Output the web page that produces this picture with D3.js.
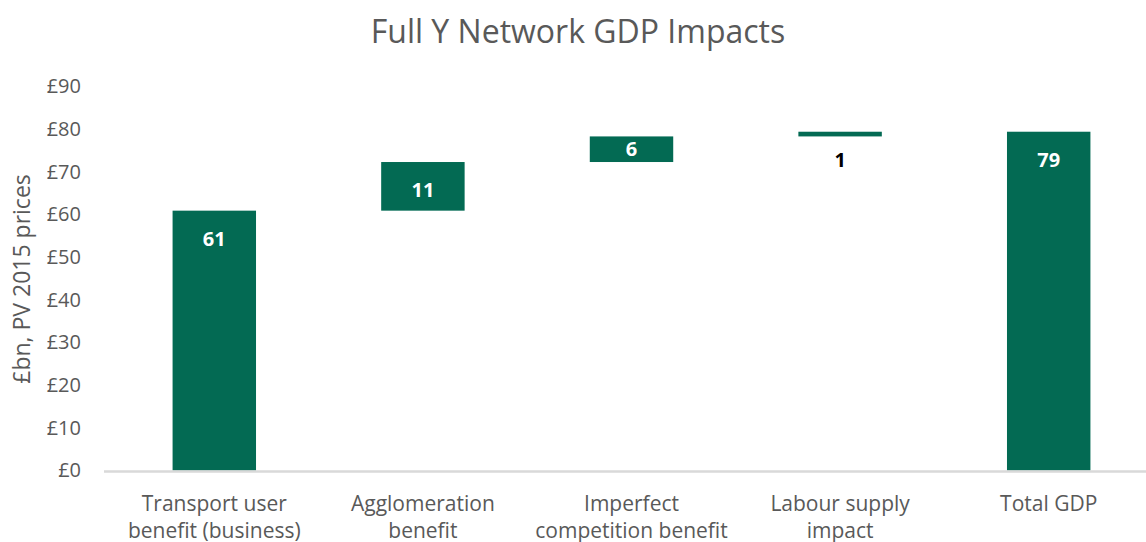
<!DOCTYPE html>
<html><head><meta charset="utf-8">
<script src="https://cdn.jsdelivr.net/npm/d3@7"></script>
<style>
body{margin:0;background:#fff;}
svg{display:block;font-family:"Open Sans",Lato,sans-serif;}
</style></head>
<body><svg id="c" width="1146" height="542"></svg>
<script>
const categories = [["Transport user","benefit (business)"],["Agglomeration","benefit"],["Imperfect","competition benefit"],["Labour supply","impact"],["Total GDP"]];
const bases = [0, 60.9, 72.3, 78.3, 0];
const values = [60.9, 11.4, 6.0, 1.1, 79.4];
const labels = ["61","11","6","1","79"];
const yTicks = [0,10,20,30,40,50,60,70,80,90];

const svg = d3.select("#c");
const green = "#036a53", grey = "#595959";
const x = d3.scaleBand().domain(d3.range(categories.length)).range([110,1153]).paddingInner(0.6).paddingOuter(0.3);
const y = d3.scaleLinear().domain([0,90]).range([470.5,86.5]);

svg.append("text").attr("x",578).attr("y",43).attr("text-anchor","middle")
  .attr("font-size",32).attr("fill",grey).text("Full Y Network GDP Impacts");

// y axis labels
const ya = svg.append("g").attr("transform","translate(81,0)")
  .call(d3.axisLeft(y).tickValues(yTicks).tickSize(0).tickPadding(0).tickFormat(d=>"£"+d));
ya.select(".domain").remove();
ya.selectAll("text").attr("font-size",20).attr("fill",grey).attr("font-family","'Open Sans',Lato,sans-serif");

svg.append("text").attr("transform","translate(30,279) rotate(-90)").attr("text-anchor","middle")
  .attr("font-size",23).attr("fill",grey).text("£bn, PV 2015 prices");

// bars
svg.append("g").selectAll("rect").data(values).join("rect")
  .attr("x",(d,i)=>x(i)).attr("width",x.bandwidth())
  .attr("y",(d,i)=>y(bases[i]+d)).attr("height",(d,i)=>y(bases[i])-y(bases[i]+d))
  .attr("fill",green);

// axis line
svg.append("line").attr("x1",104).attr("x2",1146).attr("y1",471.5).attr("y2",471.5)
  .attr("stroke","#d9d9d9").attr("stroke-width",2.5);

// data labels
svg.append("g").selectAll("text").data(values).join("text")
  .attr("x",(d,i)=>x(i)+x.bandwidth()/2)
  .attr("y",(d,i)=>{const t=y(bases[i]+d), b=y(bases[i]); const h=b-t;
     return (h>40||h<10)? t+28 : (t+b)/2;})
  .attr("dy","0.36em").attr("text-anchor","middle").attr("font-weight","bold").attr("font-size",20)
  .attr("fill",(d,i)=>(y(bases[i])-y(bases[i]+d))<10?"#000":"#fff")
  .text((d,i)=>labels[i]);

// category labels
const cg = svg.append("g");
categories.forEach((lines,i)=>{
  const t = cg.append("text").attr("x",x(i)+x.bandwidth()/2).attr("y",511).attr("text-anchor","middle")
    .attr("font-size",21).attr("fill",grey);
  lines.forEach((l,j)=>t.append("tspan").attr("x",x(i)+x.bandwidth()/2).attr("dy",j?27:0).text(l));
});
</script></body></html>
